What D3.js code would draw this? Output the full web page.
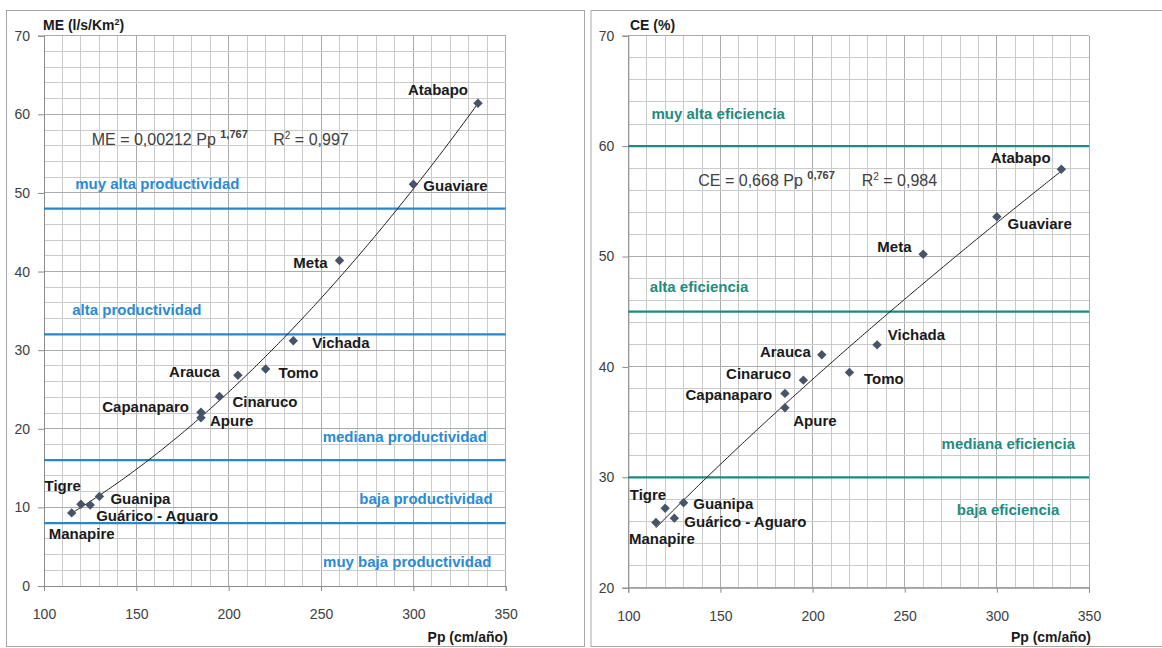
<!DOCTYPE html>
<html><head><meta charset="utf-8">
<script src="https://cdn.jsdelivr.net/npm/d3@7"></script>
<style>
html,body{margin:0;padding:0;background:#fff;}
svg{display:block;font-family:"Liberation Sans",Arial,sans-serif;}
</style></head>
<body>
<svg id="chart" width="1162" height="648"></svg>
<script>
// ---------- DATA ----------
const basins = ["Manapire","Tigre","Guárico - Aguaro","Guanipa","Capanaparo","Apure","Cinaruco","Arauca","Tomo","Vichada","Meta","Guaviare","Atabapo"];
const pp = [115,120,125,130,185,185,195,205,220,235,260,300,335];
const me = [9.3,10.4,10.3,11.4,22.1,21.4,24.1,26.8,27.6,31.2,41.4,51.1,61.4];
const ce = [25.9,27.2,26.3,27.7,37.6,36.3,38.8,41.1,39.5,42.0,50.2,53.6,57.9];

const xTicks = [100,150,200,250,300,350];
const meTicks = [0,10,20,30,40,50,60,70];
const ceTicks = [20,30,40,50,60,70];

const meLevels = [8,16,32,48];
const ceLevels = [30,45,60];
const meLevelNames = ["muy alta productividad","alta productividad","mediana productividad","baja productividad","muy baja productividad"];
const ceLevelNames = ["muy alta eficiencia","alta eficiencia","mediana eficiencia","baja eficiencia"];

const meCoef = [0.00212, 1.767];   // ME = a·Pp^b
const ceCoef = [0.668, 0.767];     // CE = a·Pp^b
const meEq = ["ME = 0,00212 Pp ", "1,767", "R", "2", " = 0,997"];
const ceEq = ["CE = 0,668 Pp ", "0,767", "R", "2", " = 0,984"];

// ---------- LAYOUT ----------
const svg = d3.select("#chart");
const FONT = "'Liberation Sans',Arial,sans-serif";

// label offsets [dx, dy, anchor] per basin (pixels from point)
const meLabelPos = [[10,20.5,"middle"],[0,-18,"end"],[6,11,"start"],[11,2.3,"start"],[-12,-6,"end"],[9,3,"start"],[13,5.4,"start"],[-18,-3.3,"end"],[13,3.4,"start"],[19,2,"start"],[-12,2,"end"],[10,1.5,"start"],[-10,-14,"end"]];
const ceLabelPos = [[-27,16.3,"start"],[1,-13.7,"end"],[10,4,"start"],[9.7,1,"start"],[-12.7,1.3,"end"],[8.3,13.4,"start"],[-12.3,-6.3,"end"],[-11,-3,"end"],[14.6,6.6,"start"],[10.7,-10.3,"start"],[-11.6,-8,"end"],[10.7,7.3,"start"],[-10.7,-11.7,"end"]];

function drawPanel(o){
  const g = svg.append("g");
  g.append("rect").attr("x",o.panel[0]).attr("y",o.panel[1]).attr("width",o.panel[2]).attr("height",o.panel[3])
    .attr("fill","#fff").attr("stroke","#a6a6a6").attr("stroke-width",1);

  const x = d3.scaleLinear().domain([100,350]).range([o.plot[0],o.plot[1]]);
  const y = d3.scaleLinear().domain(o.yDomain).range([o.plot[3],o.plot[2]]);

  const grid = g.append("g");
  d3.range(100,351,10).forEach(v=>{
    grid.append("line").attr("x1",x(v)).attr("x2",x(v)).attr("y1",y(o.yDomain[0])).attr("y2",y(o.yDomain[1]))
      .attr("stroke", v%50===0 ? "#ababab" : "#cbcbcb").attr("stroke-width",1).attr("shape-rendering","crispEdges");
  });
  d3.range(o.yDomain[0],o.yDomain[1]+0.01,2).forEach(v=>{
    grid.append("line").attr("x1",x(100)).attr("x2",x(350)).attr("y1",y(v)).attr("y2",y(v))
      .attr("stroke", v%10===0 ? "#ababab" : "#cbcbcb").attr("stroke-width",1).attr("shape-rendering","crispEdges");
  });

  const xAxis = d3.axisBottom(x).tickValues(xTicks).tickSize(5).tickPadding(18).tickFormat(d3.format("d"));
  const yAxis = d3.axisLeft(y).tickValues(o.yTicks).tickSize(6).tickPadding(8).tickFormat(d3.format("d"));
  const gx = g.append("g").attr("transform",`translate(0,${y(o.yDomain[0])})`).call(xAxis);
  const gy = g.append("g").attr("transform",`translate(${x(100)},0)`).call(yAxis);
  [gx,gy].forEach(a=>{
    a.select(".domain").attr("stroke","#8c8c8c");
    a.selectAll(".tick line").attr("stroke","#8c8c8c");
    a.selectAll("text").attr("font-family",FONT).attr("font-size",14).attr("fill","#404040");
  });

  g.selectAll(".lvl").data(o.levels).enter().append("line")
    .attr("x1",x(100)).attr("x2",x(350)).attr("y1",d=>y(d)).attr("y2",d=>y(d))
    .attr("stroke",o.lvlColor).attr("stroke-width",2.2);

  o.levelNames.forEach((t,i)=>{
    const p = o.levelLabelPos[i];
    g.append("text").attr("x",x(p[0])).attr("y",y(p[1])).attr("dy","0.35em").attr("text-anchor",p[2])
      .attr("font-family",FONT).attr("font-size",15).attr("font-weight","bold").attr("fill",o.lvlText).text(t);
  });

  // trend line from the fit stated on the chart
  const xs = d3.range(d3.min(pp), d3.max(pp)+0.5, 1);
  const line = d3.line().x(d=>x(d)).y(d=>y(o.coef[0]*Math.pow(d,o.coef[1])));
  g.append("path").datum(xs).attr("d",line).attr("fill","none").attr("stroke","#1a1a1a").attr("stroke-width",1);

  // diamond points (square rotated 45°)
  const sym = d3.symbol().type(d3.symbolSquare).size(44);
  g.selectAll(".pt").data(pp).enter().append("path")
    .attr("d",sym).attr("transform",(d,i)=>`translate(${x(d)},${y(o.vals[i])}) rotate(45)`)
    .attr("fill","#475467");

  basins.forEach((b,i)=>{
    const p = o.labelPos[i];
    g.append("text").attr("x",x(pp[i])+p[0]).attr("y",y(o.vals[i])+p[1]).attr("dy","0.35em").attr("text-anchor",p[2])
      .attr("font-family",FONT).attr("font-size",15).attr("font-weight","bold").attr("fill","#1a1a1a").text(b);
  });

  const eq = g.append("text").attr("x",o.eqPos[0]).attr("y",o.eqPos[2]).attr("dy","0.35em")
    .attr("font-family",FONT).attr("font-size",16).attr("fill","#404040");
  eq.append("tspan").text(o.eq[0]);
  eq.append("tspan").attr("font-size",11).attr("font-weight","bold").attr("dy","-0.6em").text(o.eq[1]);
  const r2 = g.append("text").attr("x",o.eqPos[1]).attr("y",o.eqPos[2]).attr("dy","0.35em")
    .attr("font-family",FONT).attr("font-size",16).attr("fill","#404040");
  r2.append("tspan").text(o.eq[2]);
  r2.append("tspan").attr("font-size",10).attr("dy","-0.55em").text(o.eq[3]);
  r2.append("tspan").attr("dy","0.35em").text(o.eq[4]);

  const yt = g.append("text").attr("x",o.yTitlePos[0]).attr("y",o.yTitlePos[1]).attr("dy","0.35em")
    .attr("font-family",FONT).attr("font-size",14).attr("font-weight","bold").attr("fill","#1a1a1a");
  o.yTitle.forEach(s=>{
    const ts = yt.append("tspan").text(s.t);
    if(s.sup) ts.attr("font-size",9).attr("dy","-0.5em");
    if(s.after) ts.attr("dy","0.3em");
  });
  g.append("text").attr("x",x(350)+2).attr("y",o.xTitleY).attr("dy","0.35em").attr("text-anchor","end")
    .attr("font-family",FONT).attr("font-size",14).attr("font-weight","bold").attr("fill","#1a1a1a").text("Pp (cm/año)");
}

drawPanel({
  panel:[6.5,10.5,578,636],
  plot:[44,505.7,35.7,586],
  yDomain:[0,70], yTicks:meTicks, vals:me, levels:meLevels,
  lvlColor:"#2b86c9", lvlText:"#2a8ad4",
  levelNames:meLevelNames,
  levelLabelPos:[[116.9,51.2,"start"],[115.3,35.1,"start"],[339.8,19.0,"end"],[342.9,11.1,"end"],[342.3,3.05,"end"]],
  coef:meCoef, eq:meEq, eqPos:[91.7,273.3,139],
  labelPos:meLabelPos,
  yTitle:[{t:"ME (l/s/Km"},{t:"2",sup:true},{t:")",after:true}],
  yTitlePos:[43,25], xTitleY:636.7
});
drawPanel({
  panel:[591,10.5,580,636],
  plot:[628.3,1089,35.7,587.7],
  yDomain:[20,70], yTicks:ceTicks, vals:ce, levels:ceLevels,
  lvlColor:"#1b8a80", lvlText:"#1e8c80",
  levelNames:ceLevelNames,
  levelLabelPos:[[112.6,62.9,"start"],[111.7,47.3,"start"],[342.4,33.0,"end"],[333.9,27.1,"end"]],
  coef:ceCoef, eq:ceEq, eqPos:[698.3,861.7,180],
  labelPos:ceLabelPos,
  yTitle:[{t:"CE (%)"}],
  yTitlePos:[630,25], xTitleY:636.7
});
</script>
</body></html>
